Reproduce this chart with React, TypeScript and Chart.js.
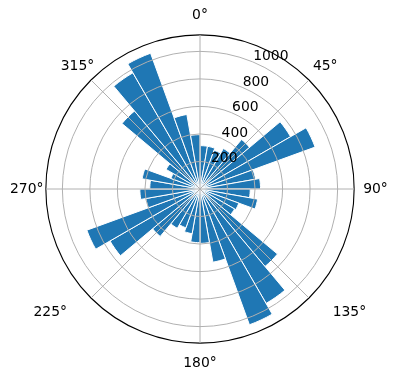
import React, { useEffect, useRef } from "react";
import { Chart, registerables } from "chart.js";

Chart.register(...registerables);

// 36 sectors of 10°, starting at 0° (north) and running clockwise
const sectorLabels: string[] = Array.from({ length: 36 }, (_, i) => `${i * 10}°`);
const sectorValues: number[] = [
  315, 315, 300, 340, 470, 760, 890, 410, 440,
  365, 425, 300, 290, 735, 960, 1050, 540, 395,
  390, 330, 300, 330, 450, 755, 875, 400, 437,
  365, 427, 225, 285, 740, 975, 1050, 550, 395,
];
const FIG = "\u2007\u2007";
const angleLabels: string[] = ["0°", "45°", "90°", FIG + "135°", "180°", "225°" + FIG, "270°", "315°"];
const radialTicks: number[] = [200, 400, 600, 800, 1000];
const radialMax = 1120;
const rLabelAngle = 22.5;

const FONT = "DejaVu Sans";
const FS = 13.9;
const BAR = "#1f77b4";
const GRID = "#b0b0b0";

const labelPadding = [10.66, 5.5, 9, 8.5, 11.46, 9, 2.4, -4.5];
const labelLineHeight: (string | number)[] = [1.2, "19px", 1.2, 1.2, 1.2, 1.2, 1.2, "33.6px"];

const rTickLabels = {
  id: "rTickLabels",
  afterDraw(chart: any) {
    const s = chart.scales.r;
    const ctx = chart.ctx;
    ctx.save();
    ctx.font = `${FS}px "${FONT}"`;
    ctx.fillStyle = "#000";
    ctx.textAlign = "left";
    ctx.textBaseline = "alphabetic";
    const a = (rLabelAngle * Math.PI) / 180;
    for (const v of radialTicks) {
      const d = s.getDistanceFromCenterForValue(v);
      ctx.fillText(String(v), s.xCenter + d * Math.sin(a) + 0.5, s.yCenter - d * Math.cos(a) - 1.5);
    }
    ctx.restore();
  },
};

export default function App() {
  const ref = useRef<HTMLCanvasElement | null>(null);
  useEffect(() => {
    if (!ref.current) return;
    const chart = new Chart(ref.current, {
      type: "polarArea",
      data: {
        labels: sectorLabels,
        datasets: [
          {
            data: sectorValues,
            backgroundColor: BAR,
            borderColor: "#ffffff",
            borderWidth: 1,
          },
        ],
      },
      options: {
        animation: false,
        responsive: true,
        maintainAspectRatio: false,
        layout: { padding: { left: 9, right: 7, top: 0, bottom: 0 } },
        plugins: { legend: { display: false }, tooltip: { enabled: false } },
        scales: {
          r: {
            type: "radialLinear",
            min: 0,
            max: radialMax,
            startAngle: 0,
            labels: angleLabels,
            ticks: { display: false, stepSize: 200 },
            grid: {
              circular: true,
              z: 1,
              color: (c: any) => (c.tick && c.tick.value === radialMax ? "#000000" : GRID),
              lineWidth: (c: any) => (c.tick && c.tick.value === radialMax ? 1.1 : 1),
            },
            angleLines: { display: true, color: GRID, lineWidth: 1 },
            pointLabels: {
              display: true,
              color: "#000",
              font: (c: any) => ({ family: FONT, size: FS, lineHeight: labelLineHeight[c.index] ?? 1.2 }),
              padding: (c: any) => labelPadding[c.index] ?? 11,
            },
          } as any,
        },
      },
      plugins: [rTickLabels],
    });
    return () => chart.destroy();
  }, []);
  return (
    <div style={{ position: "fixed", left: 0, top: 0, width: 396, height: 380, background: "#fff" }}>
      <canvas ref={ref} />
    </div>
  );
}
